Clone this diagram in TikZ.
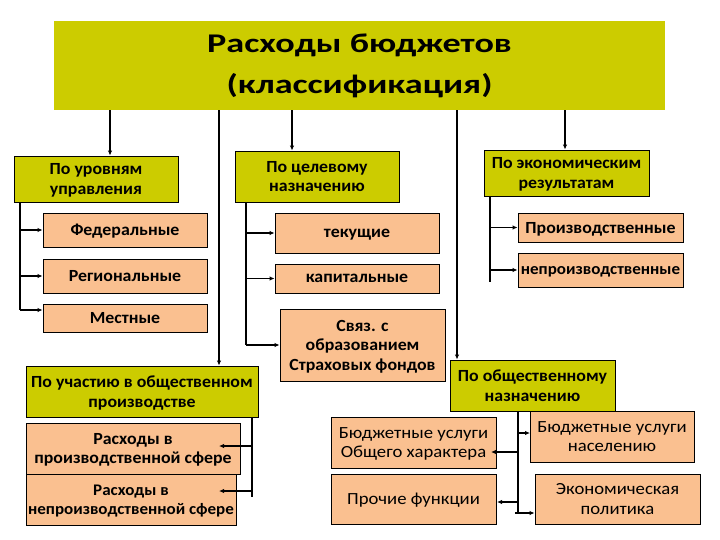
\documentclass[tikz,border=0pt]{standalone}
\usepackage{fontspec}
\setmainfont{Carlito}[FakeStretch=1.1, BoldFeatures={FakeStretch=1.05}]
\newfontfamily\titlefont{Carlito}[FakeStretch=1.34]
\usetikzlibrary{arrows.meta}
\definecolor{olive}{RGB}{204,204,0}
\definecolor{peach}{RGB}{250,192,144}
\tikzset{
  head/.style={draw=black, fill=olive, line width=0.9pt, align=center, inner sep=1pt, text depth=-1.5pt, font=\fontsize{17}{19.5}\selectfont\bfseries},
  item/.style={draw=black, fill=peach, line width=0.9pt, align=center, inner sep=1pt, text depth=-1.5pt, font=\fontsize{17}{19.5}\selectfont\bfseries},
  light/.style={font=\fontsize{17}{19.5}\selectfont},
  tight/.style={inner sep=0pt, font=\fontsize{16.2}{19.5}\selectfont\bfseries},
  ln/.style={line width=1.1pt},
  arr/.style={line width=1.1pt, -{Latex[length=5pt,width=4.5pt]}},
}
\begin{document}
\begin{tikzpicture}[x=1pt,y=-1pt]
\useasboundingbox (0,0) rectangle (720,540);
\fill[white] (0,0) rectangle (720,540);
% title
\node[fill=olive, minimum width=611pt, minimum height=89pt, align=center, inner sep=0pt,
      font=\titlefont\fontsize{27}{41}\selectfont\bfseries] (title) at (359.5,65.5) {Расходы бюджетов\\(классификация)};
% heads
\node[head, minimum width=164pt, minimum height=46pt] (lvl) at (96,179) {По уровням\\управления};
\node[head, minimum width=164pt, minimum height=51pt] (tsel) at (317,176.5) {По целевому\\назначению};
\node[head, minimum width=165pt, minimum height=46pt] (ekon) at (566.5,173) {По экономическим\\результатам};
\node[head, minimum width=232pt, minimum height=51pt] (uch) at (142,391.5) {По участию в общественном\\производстве};
\node[head, minimum width=165pt, minimum height=51pt] (obsh) at (532.5,385.5) {По общественному\\назначению};
% items
\node[item, minimum width=164pt, minimum height=34pt] (fed) at (125,230) {Федеральные};
\node[item, minimum width=164pt, minimum height=34pt] (reg) at (125,276) {Региональные};
\node[item, minimum width=164pt, minimum height=28pt] (mest) at (125,318) {Местные};
\node[item, minimum width=164pt, minimum height=40pt] (tek) at (357,233) {текущие};
\node[item, minimum width=164pt, minimum height=29pt] (kap) at (357,278.5) {капитальные};
\node[item, minimum width=165pt, minimum height=72pt] (svz) at (362.5,345) {Связ. с\\образованием\\Страховых фондов};
\node[item, minimum width=165pt, minimum height=29pt] (prz) at (600.5,227.5) {Производственные};
\node[item, tight, minimum width=165pt, minimum height=34pt] (nprz) at (600.5,270) {непроизводственные};
\node[item, minimum width=214pt, minimum height=51pt] (rpr) at (133,448.5) {Расходы в\\производственной сфере};
\node[item, tight, minimum width=210pt, minimum height=51pt] (rnp) at (131,499.5) {Расходы в\\непроизводственной сфере};
\node[item, light, minimum width=165pt, minimum height=51pt] (buo) at (413.5,442.5) {Бюджетные услуги\\Общего характера};
\node[item, light, minimum width=165pt, minimum height=50pt] (pro) at (413.5,499) {Прочие функции};
\node[item, light, minimum width=164pt, minimum height=51pt] (bun) at (612,436.5) {Бюджетные услуги\\населению};
\node[item, light, minimum width=165pt, minimum height=50pt] (ekp) at (617.5,499) {Экономическая\\политика};
% trunk coordinates
\coordinate (x1) at (110,0);
\coordinate (x2) at (219,0);
\coordinate (x3) at (292,0);
\coordinate (x4) at (457,0);
\coordinate (x5) at (565,0);
% from title
\draw[arr] (title.south -| x1) -- (lvl.north -| x1);
\draw[arr] (title.south -| x2) -- (uch.north -| x2);
\draw[arr] (title.south -| x3) -- (tsel.north -| x3);
\draw[arr] (title.south -| x4) -- (obsh.north -| x4);
\draw[arr] (title.south -| x5) -- (ekon.north -| x5);
% levels
\coordinate (l1) at (20,310);
\coordinate (lm) at (mest.west |- l1);
\draw[ln] (lvl.south -| l1) -- (l1);
\draw[arr] (l1 |- fed.west) -- (fed.west);
\draw[arr] (l1 |- reg.west) -- (reg.west);
\draw[arr] (l1) -- (lm);
% target
\coordinate (t1) at (246,0);
\draw[ln] (tsel.south -| t1) -- (t1 |- svz.west);
\draw[arr] (t1 |- tek.west) -- (tek.west);
\draw[arr] (t1 |- kap.west) -- (kap.west);
\draw[arr] (t1 |- svz.west) -- (svz.west);
% economic
\coordinate (e1) at (490,282);
\draw[ln] (ekon.south -| e1) -- (e1);
\draw[arr] (e1 |- prz.west) -- (prz.west);
\draw[arr] (e1 |- nprz.west) -- (nprz.west);
% participation
\coordinate (u1) at (252,497);
\coordinate (ua) at (219,446);
\coordinate (ub) at (219,491);
\draw[ln] (uch.south -| u1) -- (u1);
\draw[arr] (u1 |- ua) -- (ua);
\draw[arr] (u1 |- ub) -- (ub);
% social
\coordinate (s1) at (518,513);
\coordinate (sa) at (491,452);
\coordinate (sb) at (497,502);
\coordinate (sc) at (530,433);
\coordinate (sd) at (515,513);
\draw[ln] (obsh.south -| s1) -- (s1);
\draw[arr] (s1 |- sa) -- (sa);
\draw[arr] (s1 |- sb) -- (sb);
\draw[arr] (s1 |- sc) -- (sc);
\draw[arr] (sd) -- (ekp.west |- sd);
\end{tikzpicture}
\end{document}
